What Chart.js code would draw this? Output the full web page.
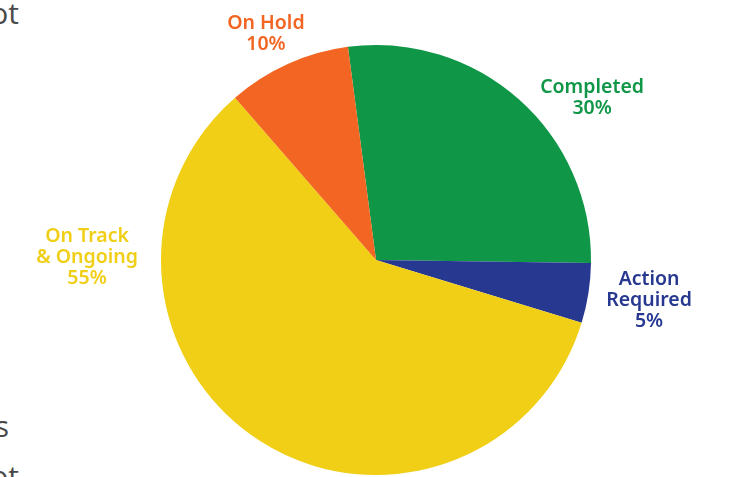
<!DOCTYPE html>
<html>
<head>
<meta charset="utf-8">
<script src="https://cdn.jsdelivr.net/npm/chart.js@4/dist/chart.umd.min.js"></script>
<style>
  html, body { margin: 0; padding: 0; background: #fff; overflow: hidden; }
  #wrap { position: relative; width: 729px; height: 477px; }
  canvas { position: absolute; left: 0; top: 0; }
  .frag { position: absolute; font-family: "Open Sans", sans-serif; font-size: 30px; color: #4a4a4a; white-space: nowrap; text-align: right; }
</style>
</head>
<body>
<div id="wrap">
  <div class="frag" style="right:710px; top:-8px;">not</div>
  <div class="frag" style="right:720px; top:405px;">is</div>
  <div class="frag" style="right:710px; top:455px;">not</div>
  <canvas id="c" width="729" height="477"></canvas>
</div>
<script>
// Data (slice sizes as drawn; label text as printed)
const categories = ["Completed", "Action Required", "On Track & Ongoing", "On Hold"];
const values = [27.3, 4.5, 58.9, 9.3];
const labelLines = [["Completed", "30%"], ["Action", "Required", "5%"], ["On Track", "& Ongoing", "55%"], ["On Hold", "10%"]];
const colors = ["#0f9647", "#273891", "#f0cf16", "#f26522"];

// first-line baseline anchor relative to pie centre, in units of radius
const labelAnchors = [[1.005, -0.777], [1.27, 0.116], [-1.344, -0.084], [-0.512, -1.074]];

const labelPlugin = {
  id: "outerLabels",
  afterDraw(chart) {
    const ctx = chart.ctx;
    const meta = chart.getDatasetMeta(0);
    ctx.save();
    ctx.font = "600 19.5px 'Noto Sans', sans-serif";
    ctx.textAlign = "center";
    ctx.textBaseline = "alphabetic";
    meta.data.forEach((arc, i) => {
      const r = arc.outerRadius;
      const x = arc.x + labelAnchors[i][0] * r;
      const y = arc.y + labelAnchors[i][1] * r;
      const lines = labelLines[i];
      const lh = 21;
      ctx.fillStyle = colors[i];
      lines.forEach((t, k) => {
        ctx.fillText(t, x, y + k * lh);
      });
    });
    ctx.restore();
  }
};

new Chart(document.getElementById("c"), {
  type: "pie",
  data: {
    labels: categories,
    datasets: [{
      data: values,
      backgroundColor: colors,
      borderWidth: 0
    }]
  },
  options: {
    responsive: false,
    animation: false,
    rotation: -7.5,
    layout: { padding: { top: 45, bottom: 2, left: 23, right: 0 } },
    plugins: { legend: { display: false }, tooltip: { enabled: false } }
  },
  plugins: [labelPlugin]
});
</script>
</body>
</html>
